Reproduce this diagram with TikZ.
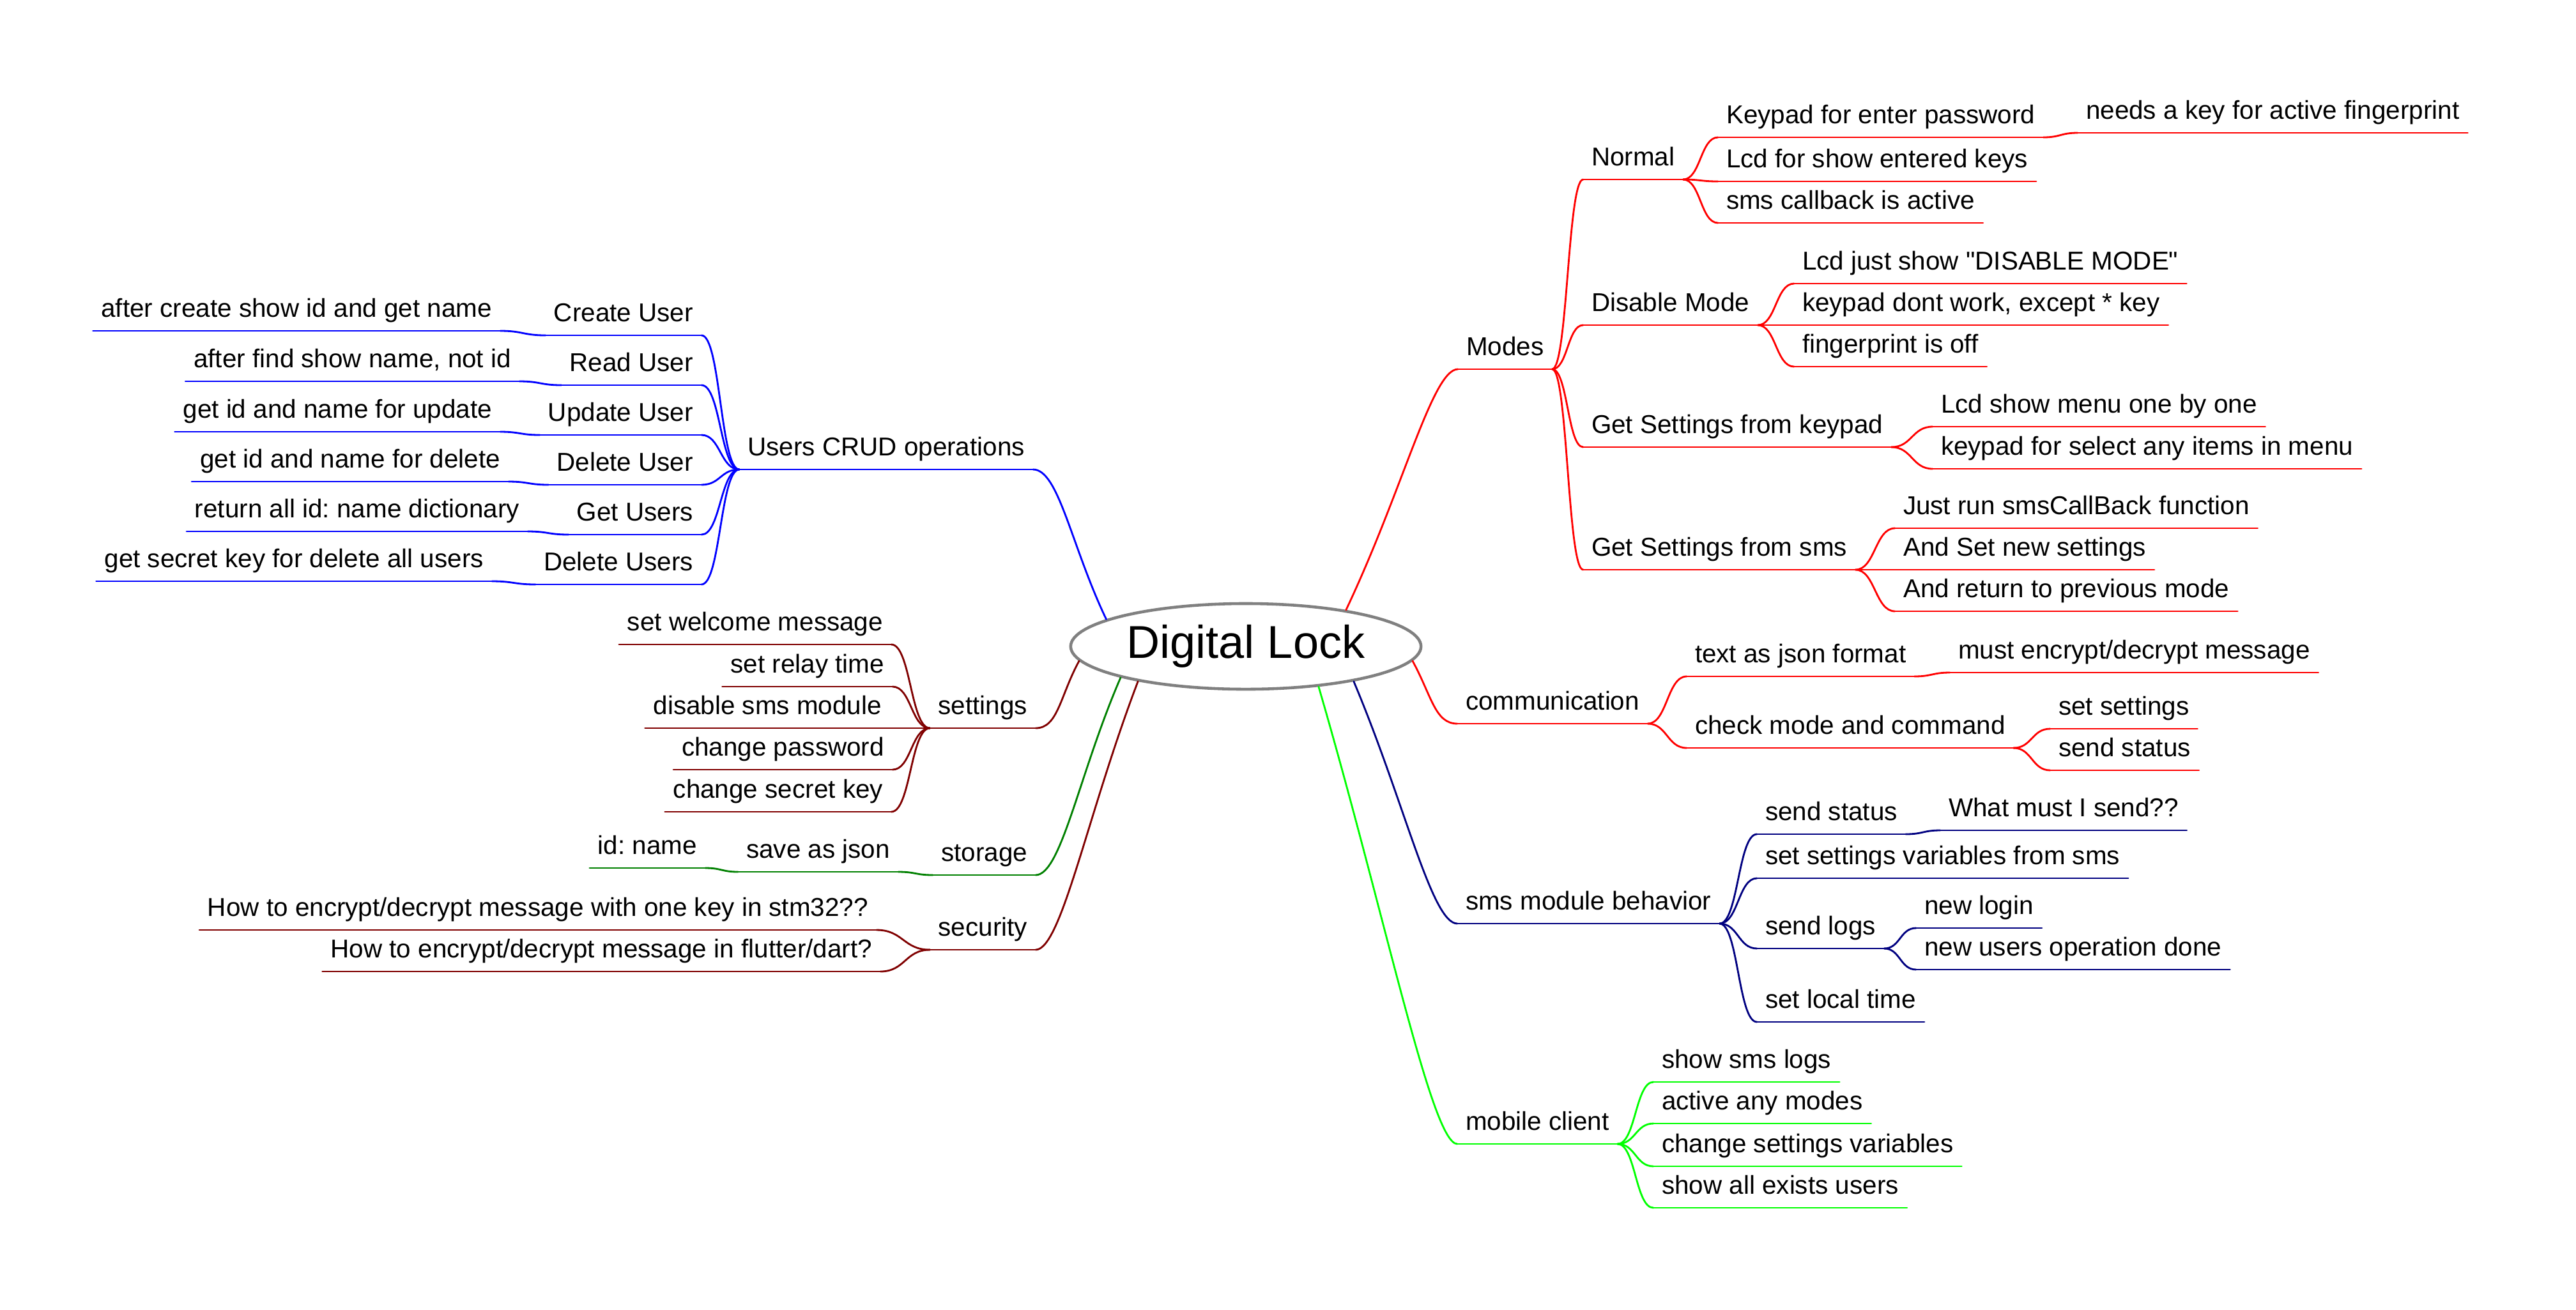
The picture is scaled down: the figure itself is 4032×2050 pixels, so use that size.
\documentclass[tikz,border=0pt]{standalone}
\usepackage{fontspec}
\setmainfont{Liberation Sans}
\usetikzlibrary{shapes.geometric,calc}
\definecolor{mred}{HTML}{FF0000}
\definecolor{mblue}{HTML}{0000FF}
\definecolor{mdark}{HTML}{800000}
\definecolor{mgreen}{HTML}{008000}
\definecolor{mnavy}{HTML}{000080}
\definecolor{mlime}{HTML}{00FF00}
\definecolor{mgray}{HTML}{808080}
\frenchspacing

\begin{document}
\begin{tikzpicture}[x=0.01cm, y=0.01cm,
  br/.style={line width=0.8pt, line cap=round},
  rn/.style={anchor=south west, inner xsep=3.5pt, inner ysep=3.5pt, text depth=2.5pt,
    font=\fontsize{11.5}{14}\selectfont,
    append after command={(\tikzlastnode.south west) edge[br,#1] (\tikzlastnode.south east)}},
  ln/.style={rn=#1, anchor=south east},
  link/.style={to path={let \p1=(\tikztostart), \p2=(\tikztotarget) in
    .. controls (\x1/2+\x2/2,\y1) and (\x1/2+\x2/2,\y2) .. (\tikztotarget) \tikztonodes}}]
\useasboundingbox (0,0) rectangle (4032,-2050);

% root
\node[ellipse, draw=mgray, line width=1.3pt, fill=white, inner sep=0pt,
  minimum width=5.48cm, minimum height=1.34cm,
  font=\fontsize{20.5}{24}\selectfont] (root) at (1950,-1012) {Digital Lock};

% Modes
\node[rn=mred] (modes) at (2282,-578) {Modes};
\node[rn=mred] (normal) at (2478,-281) {Normal};
\node[rn=mred] (keypad) at (2689,-215) {Keypad for enter password};
\node[rn=mred] (fpkey) at (3252,-208) {needs a key for active fingerprint};
\node[rn=mred] (lcdkeys) at (2689,-284) {Lcd for show entered keys};
\node[rn=mred] (smscb) at (2689,-349) {sms callback is active};
\node[rn=mred] (disable) at (2478,-509) {Disable Mode};
\node[rn=mred] (dislcd) at (2808,-444) {Lcd just show \textquotedbl DISABLE MODE\textquotedbl};
\node[rn=mred] (diskey) at (2808,-509) {keypad dont work, except * key};
\node[rn=mred] (disfp) at (2808,-574) {fingerprint is off};
\node[rn=mred] (getkp) at (2478,-700) {Get Settings from keypad};
\node[rn=mred] (kpmenu) at (3025,-668) {Lcd show menu one by one};
\node[rn=mred] (kpsel) at (3025,-734) {keypad for select any items in menu};
\node[rn=mred] (getsms) at (2478,-892) {Get Settings from sms};
\node[rn=mred] (smsrun) at (2966,-827) {Just run smsCallBack function};
\node[rn=mred] (smsset) at (2966,-892) {And Set new settings};
\node[rn=mred] (smsret) at (2966,-957) {And return to previous mode};

% communication
\node[rn=mred] (comm) at (2281,-1133) {communication};
\node[rn=mred] (json) at (2640,-1059) {text as json format};
\node[rn=mred] (encrypt) at (3052,-1053) {must encrypt/decrypt message};
\node[rn=mred] (check) at (2640,-1171) {check mode and command};
\node[rn=mred] (chkset) at (3209,-1141) {set settings};
\node[rn=mred] (chksend) at (3209,-1206) {send status};

% sms module
\node[rn=mnavy] (sms) at (2281,-1446) {sms module behavior};
\node[rn=mnavy] (sstatus) at (2750,-1306) {send status};
\node[rn=mnavy] (swhat) at (3037,-1300) {What must I send??};
\node[rn=mnavy] (svars) at (2750,-1375) {set settings variables from sms};
\node[rn=mnavy] (slogs) at (2750,-1485) {send logs};
\node[rn=mnavy] (slogin) at (2999,-1453) {new login};
\node[rn=mnavy] (susers) at (2999,-1518) {new users operation done};
\node[rn=mnavy] (stime) at (2750,-1600) {set local time};

% mobile client
\node[rn=mlime] (mobile) at (2281,-1791) {mobile client};
\node[rn=mlime] (moblogs) at (2588,-1694) {show sms logs};
\node[rn=mlime] (mobmodes) at (2588,-1759) {active any modes};
\node[rn=mlime] (mobvars) at (2588,-1826) {change settings variables};
\node[rn=mlime] (mobusers) at (2588,-1891) {show all exists users};

% Users CRUD
\node[ln=mblue] (crud) at (1617,-735) {Users CRUD operations};
\node[ln=mblue] (create) at (1098,-525) {Create User};
\node[ln=mblue] (createn) at (783,-518) {after create show id and get name};
\node[ln=mblue] (read) at (1098,-603) {Read User};
\node[ln=mblue] (readn) at (813,-597) {after find show name, not id};
\node[ln=mblue] (update) at (1098,-681) {Update User};
\node[ln=mblue] (updaten) at (783,-676) {get id and name for update};
\node[ln=mblue] (delete) at (1098,-759) {Delete User};
\node[ln=mblue] (deleten) at (796,-754) {get id and name for delete};
\node[ln=mblue] (getu) at (1098,-837) {Get Users};
\node[ln=mblue] (getun) at (826,-832) {return all id: name dictionary};
\node[ln=mblue] (delall) at (1098,-915) {Delete Users};
\node[ln=mblue] (delalln) at (770,-910) {get secret key for delete all users};

% settings
\node[ln=mdark] (settings) at (1621,-1140) {settings};
\node[ln=mdark] (welcome) at (1395,-1009) {set welcome message};
\node[ln=mdark] (relay) at (1397,-1075) {set relay time};
\node[ln=mdark] (dissms) at (1393,-1140) {disable sms module};
\node[ln=mdark] (chpass) at (1397,-1205) {change password};
\node[ln=mdark] (chsecret) at (1395,-1271) {change secret key};

% storage
\node[ln=mgreen] (storage) at (1621,-1370) {storage};
\node[ln=mgreen] (savejson) at (1406,-1365) {save as json};
\node[ln=mgreen] (idname) at (1104,-1359) {id: name};

% security
\node[ln=mdark] (security) at (1621,-1487) {security};
\node[ln=mdark] (secstm) at (1372,-1456) {How to encrypt/decrypt message with one key in stm32??};
\node[ln=mdark] (secdart) at (1378,-1521) {How to encrypt/decrypt message in flutter/dart?};

% main branches
\draw[br,mred] (root.20) .. controls +(90,190) and +(-40,0) .. (modes.south west);
\draw[br,mred] (root.-5) .. controls +(30,-55) and +(-35,0) .. (comm.south west);
\draw[br,mnavy] (root.-18) .. controls +(80,-190) and +(-40,0) .. (sms.south west);
\draw[br,mlime] (root.-29) .. controls +(105,-360) and +(-40,0) .. (mobile.south west);
\draw[br,mblue] (root.169) .. controls +(-55,115) and +(40,0) .. (crud.south east);
\draw[br,mdark] (root.185) .. controls +(-30,-55) and +(35,0) .. (settings.south east);
\draw[br,mgreen] (root.194) .. controls +(-65,-150) and +(40,0) .. (storage.south east);
\draw[br,mdark] (root.198) .. controls +(-80,-210) and +(40,0) .. (security.south east);

% right side links
\draw[br,mred] (modes.south east) edge[link] (normal.south west)
  edge[link] (disable.south west) edge[link] (getkp.south west) edge[link] (getsms.south west);
\draw[br,mred] (normal.south east) edge[link] (keypad.south west)
  edge[link] (lcdkeys.south west) edge[link] (smscb.south west);
\draw[br,mred] (keypad.south east) edge[link] (fpkey.south west);
\draw[br,mred] (disable.south east) edge[link] (dislcd.south west)
  edge[link] (diskey.south west) edge[link] (disfp.south west);
\draw[br,mred] (getkp.south east) edge[link] (kpmenu.south west) edge[link] (kpsel.south west);
\draw[br,mred] (getsms.south east) edge[link] (smsrun.south west)
  edge[link] (smsset.south west) edge[link] (smsret.south west);
\draw[br,mred] (comm.south east) edge[link] (json.south west) edge[link] (check.south west);
\draw[br,mred] (json.south east) edge[link] (encrypt.south west);
\draw[br,mred] (check.south east) edge[link] (chkset.south west) edge[link] (chksend.south west);
\draw[br,mnavy] (sms.south east) edge[link] (sstatus.south west) edge[link] (svars.south west)
  edge[link] (slogs.south west) edge[link] (stime.south west);
\draw[br,mnavy] (sstatus.south east) edge[link] (swhat.south west);
\draw[br,mnavy] (slogs.south east) edge[link] (slogin.south west) edge[link] (susers.south west);
\draw[br,mlime] (mobile.south east) edge[link] (moblogs.south west) edge[link] (mobmodes.south west)
  edge[link] (mobvars.south west) edge[link] (mobusers.south west);

% left side links
\draw[br,mblue] (crud.south west) edge[link] (create.south east) edge[link] (read.south east)
  edge[link] (update.south east) edge[link] (delete.south east)
  edge[link] (getu.south east) edge[link] (delall.south east);
\draw[br,mblue] (create.south west) edge[link] (createn.south east);
\draw[br,mblue] (read.south west) edge[link] (readn.south east);
\draw[br,mblue] (update.south west) edge[link] (updaten.south east);
\draw[br,mblue] (delete.south west) edge[link] (deleten.south east);
\draw[br,mblue] (getu.south west) edge[link] (getun.south east);
\draw[br,mblue] (delall.south west) edge[link] (delalln.south east);
\draw[br,mdark] (settings.south west) edge[link] (welcome.south east) edge[link] (relay.south east)
  edge[link] (dissms.south east) edge[link] (chpass.south east) edge[link] (chsecret.south east);
\draw[br,mgreen] (storage.south west) edge[link] (savejson.south east);
\draw[br,mgreen] (savejson.south west) edge[link] (idname.south east);
\draw[br,mdark] (security.south west) edge[link] (secstm.south east) edge[link] (secdart.south east);
\end{tikzpicture}
\end{document}
